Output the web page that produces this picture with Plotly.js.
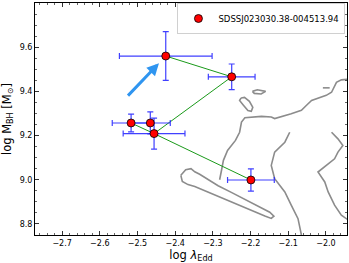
<!DOCTYPE html>
<html><head><meta charset="utf-8">
<script src="https://cdn.plot.ly/plotly-3.0.1.min.js"></script>
<style>html,body{margin:0;padding:0;background:#fff}#chart{width:349px;height:263px}</style>
</head><body><div id="chart"></div>
<script>
// Data points (log lambda_Edd, log M_BH) with errors
const logEdd   = [-2.425, -2.25, -2.517, -2.466, -2.456, -2.199];
const logMbh   = [9.56, 9.466, 9.257, 9.257, 9.209, 8.999];
const errEdd   = [0.123, 0.062, 0.05, 0.053, 0.082, 0.062];
const errMbh   = [0.11, 0.058, 0.04, 0.05, 0.07, 0.05];
// connecting line (green)
const lineEdd = [-2.425, -2.25, -2.456, -2.517, null, -2.456, -2.199];
const lineMbh = [9.56, 9.466, 9.209, 9.257, null, 9.209, 8.999];
// arrow (start -> end)
const arrowEdd = [-2.529, -2.443];
const arrowMbh = [9.374, 9.527];
// contour lines
const contour1Edd = [-1.940,-1.959,-1.972,-1.979,-1.985,-1.999,-2.021,-2.038,-2.052,-2.065,-2.092,-2.118,-2.136,-2.145,-2.171,-2.215,-2.224,-2.229,-2.240,-2.261,-2.272,-2.277,-2.282];
const contour1Mbh = [9.455,9.452,9.441,9.419,9.396,9.382,9.369,9.359,9.336,9.314,9.299,9.284,9.277,9.284,9.287,9.281,9.261,9.215,9.178,9.133,9.088,9.043,9.000];
const contour2Edd = [-2.385,-2.372,-2.358,-2.348,-2.335,-2.313,-2.286,-2.251,-2.215,-2.180,-2.149,-2.138,-2.145,-2.162,-2.198,-2.233,-2.268,-2.304,-2.330,-2.348,-2.366,-2.381,-2.385];
const contour2Mbh = [9.020,9.045,9.050,9.036,9.025,9.003,8.973,8.943,8.912,8.883,8.853,8.835,8.825,8.836,8.862,8.887,8.913,8.940,8.958,8.970,8.978,8.992,9.020];
const contour3Edd = [-2.195,-2.182,-2.160,-2.172,-2.190,-2.195];
const contour3Mbh = [9.400,9.407,9.400,9.388,9.391,9.400];
const contour4Edd = [-2.225,-2.216,-2.203,-2.194,-2.198,-2.207,-2.220,-2.229,-2.225];
const contour4Mbh = [9.370,9.373,9.355,9.328,9.310,9.313,9.340,9.359,9.370];
const contour5Edd = [-2.096,-2.109,-2.136,-2.145,-2.136,-2.109,-2.092,-2.074,-2.065];
const contour5Mbh = [9.215,9.170,9.125,9.065,9.005,8.945,8.885,8.824,8.750];
const contour6Edd = [-1.985,-1.968,-1.955,-1.968,-1.977,-2.021,-2.003,-1.994,-1.977,-1.959,-1.940];
const contour6Mbh = [9.215,9.185,9.155,9.125,9.095,9.035,8.990,8.945,8.885,8.840,8.817];
const contour7Edd = [-2.008,-1.990];
const contour7Mbh = [9.416,9.416];
const legendName = 'SDSSJ023030.38-004513.94';

const contourStyle = {color:'#8c8c8c', width:1.6};
const traces = [];
[[contour1Edd,contour1Mbh],[contour2Edd,contour2Mbh],[contour3Edd,contour3Mbh],[contour4Edd,contour4Mbh],[contour5Edd,contour5Mbh],[contour6Edd,contour6Mbh],[contour7Edd,contour7Mbh]].forEach(c=>{
  traces.push({x:c[0], y:c[1], mode:'lines', type:'scatter', line:contourStyle, showlegend:false, hoverinfo:'skip'});
});
traces.push({x:lineEdd, y:lineMbh, mode:'lines', type:'scatter', line:{color:'#1a9a1a', width:1}, showlegend:false, connectgaps:false});
traces.push({x:logEdd, y:logMbh, mode:'markers', type:'scatter', name:legendName,
  marker:{color:'#ff0000', size:8, line:{color:'#000', width:0.8}},
  error_x:{type:'data', array:errEdd, visible:true, color:'rgba(30,30,255,0.85)', thickness:1.2, width:3},
  error_y:{type:'data', array:errMbh, visible:true, color:'rgba(30,30,255,0.85)', thickness:1.2, width:3}
});

const axisCommon = {ticks:'inside', mirror:'allticks', showline:true, linecolor:'#000', linewidth:1,
  ticklen:4, tickwidth:0.8, tickcolor:'#000', showgrid:false, zeroline:false,
  tickfont:{family:'DejaVu Sans', size:8, color:'#000'},
  minor:{ticks:'inside', ticklen:2, tickwidth:0.6, tickcolor:'#000'}};

const layout = {
  width:349, height:263,
  margin:{l:35, r:2, t:3, b:28},
  paper_bgcolor:'#fff', plot_bgcolor:'#fff',
  font:{family:'DejaVu Sans', color:'#000'},
  xaxis:Object.assign({}, axisCommon, {range:[-2.772,-1.944], dtick:0.1, tickformat:'.1f',
    minor:Object.assign({}, axisCommon.minor, {dtick:0.02}),
    title:{text:'log <i>λ</i><sub>Edd</sub>', font:{size:11.5}, standoff:4}}),
  yaxis:Object.assign({}, axisCommon, {range:[8.75,9.8], dtick:0.2, tickformat:'.1f',
    minor:Object.assign({}, axisCommon.minor, {dtick:0.05}),
    title:{text:'log M<sub>BH</sub> [M<sub>⊙</sub>]', font:{size:11.5}, standoff:6}}),
  showlegend:true,
  legend:{x:0.995, xanchor:'right', y:1.0, yanchor:'top', bgcolor:'#fff', bordercolor:'#d0d0d0', borderwidth:1,
    font:{family:'DejaVu Sans', size:8.5}, itemwidth:30},
  annotations:[{x:arrowEdd[1], y:arrowMbh[1], ax:arrowEdd[0], ay:arrowMbh[0], xref:'x', yref:'y', axref:'x', ayref:'y',
    showarrow:true, arrowcolor:'#2f95f0', arrowwidth:3, arrowhead:2, arrowsize:0.8, text:''}]
};
Plotly.newPlot('chart', traces, layout, {staticPlot:true, displayModeBar:false});
</script></body></html>
